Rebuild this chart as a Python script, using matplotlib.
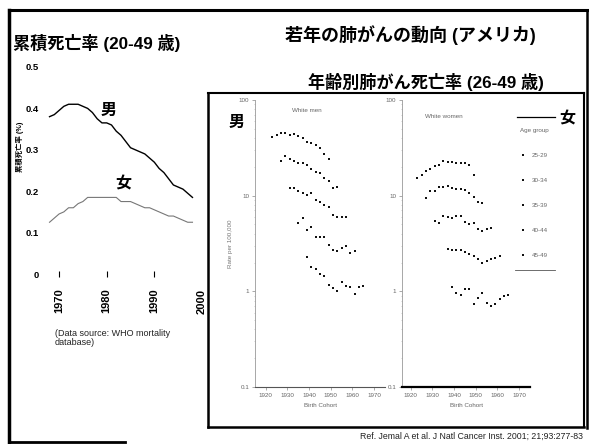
import matplotlib
matplotlib.use('Agg')
import matplotlib.pyplot as plt
from matplotlib.lines import Line2D

plt.rcParams['font.family'] = ['Liberation Sans', 'Noto Sans CJK JP', 'DejaVu Sans']

# ---------------- data: left chart (cumulative death rate, %) ----------------
years = [1968, 1969, 1970, 1971, 1972, 1973, 1974, 1975, 1976, 1977, 1978, 1979, 1980,
         1981, 1982, 1983, 1984, 1985, 1986, 1987, 1988, 1989, 1990, 1991, 1992, 1993,
         1994, 1995, 1996, 1997, 1998]
male = [0.38, 0.385, 0.395, 0.405, 0.41, 0.41, 0.41, 0.405, 0.40, 0.39, 0.375, 0.365, 0.365,
        0.36, 0.345, 0.335, 0.32, 0.305, 0.30, 0.295, 0.29, 0.28, 0.27, 0.255, 0.245, 0.23,
        0.215, 0.21, 0.205, 0.195, 0.185]
female = [0.125, 0.135, 0.145, 0.15, 0.16, 0.16, 0.17, 0.175, 0.185, 0.185, 0.185, 0.185, 0.185,
          0.185, 0.185, 0.175, 0.175, 0.175, 0.17, 0.165, 0.16, 0.16, 0.155, 0.15, 0.145, 0.14,
          0.14, 0.135, 0.13, 0.125, 0.125]
left_yticks = [0, 0.1, 0.2, 0.3, 0.4, 0.5]
left_xticks = [1970, 1980, 1990, 2000]

# ---------------- data: right panels (rate per 100,000 by birth cohort) ----------------
age_groups = ['45-49', '40-44', '35-39', '30-34', '25-29']

m45_x = [1923, 1925, 1927, 1929, 1931, 1933, 1935, 1937, 1939, 1941, 1943, 1945, 1947, 1949]
m45_y = [40.9, 43.0, 45.1, 45.1, 43.0, 44.0, 42.0, 40.0, 36.3, 35.5, 33.8, 31.4, 27.2, 24.1]
m40_x = [1927, 1929, 1931, 1933, 1935, 1937, 1939, 1941, 1943, 1945, 1947, 1949, 1951, 1953]
m40_y = [23.0, 25.9, 24.1, 23.0, 21.9, 21.9, 20.9, 19.0, 17.7, 17.2, 15.3, 14.2, 12.0, 12.3]
m35_x = [1931, 1933, 1935, 1937, 1939, 1941, 1943, 1945, 1947, 1949, 1951, 1953, 1955, 1957]
m35_y = [12.0, 12.0, 11.2, 10.6, 10.1, 10.6, 9.0, 8.6, 8.0, 7.6, 6.3, 6.0, 6.0, 6.0]
m30_x = [1935, 1937, 1939, 1941, 1943, 1945, 1947, 1949, 1951, 1953, 1955, 1957, 1959, 1961]
m30_y = [5.2, 5.8, 4.4, 4.7, 3.7, 3.7, 3.7, 3.05, 2.70, 2.64, 2.83, 2.97, 2.51, 2.64]
m25_x = [1939, 1941, 1943, 1945, 1947, 1949, 1951, 1953, 1955, 1957, 1959, 1961, 1963, 1965]
m25_y = [2.28, 1.80, 1.71, 1.52, 1.45, 1.16, 1.08, 1.01, 1.25, 1.14, 1.11, 0.94, 1.11, 1.14]

w45_x = [1923, 1925, 1927, 1929, 1931, 1933, 1935, 1937, 1939, 1941, 1943, 1945, 1947, 1949]
w45_y = [15.3, 16.4, 18.1, 19.0, 20.4, 20.9, 23.0, 22.4, 22.4, 21.9, 21.9, 21.9, 20.9, 16.4]
w40_x = [1927, 1929, 1931, 1933, 1935, 1937, 1939, 1941, 1943, 1945, 1947, 1949, 1951, 1953]
w40_y = [9.4, 11.2, 11.2, 12.3, 12.3, 12.6, 12.0, 11.7, 11.7, 11.4, 10.6, 9.7, 8.6, 8.4]
w35_x = [1931, 1933, 1935, 1937, 1939, 1941, 1943, 1945, 1947, 1949, 1951, 1953, 1955, 1957]
w35_y = [5.4, 5.2, 6.1, 6.0, 5.8, 6.1, 6.1, 5.3, 5.0, 5.2, 4.5, 4.3, 4.5, 4.6]
w30_x = [1937, 1939, 1941, 1943, 1945, 1947, 1949, 1951, 1953, 1955, 1957, 1959, 1961]
w30_y = [2.77, 2.70, 2.70, 2.70, 2.57, 2.45, 2.34, 2.18, 1.98, 2.07, 2.18, 2.23, 2.34]
w25_x = [1939, 1941, 1943, 1945, 1947, 1949, 1951, 1953, 1955, 1957, 1959, 1961, 1963, 1965]
w25_y = [1.11, 0.96, 0.91, 1.06, 1.06, 0.74, 0.85, 0.96, 0.75, 0.70, 0.74, 0.83, 0.89, 0.91]

cohort_ticks = [1920, 1930, 1940, 1950, 1960, 1970]
rate_ticks = [0.1, 1, 10, 100]
rate_ticklabels = ['0.1', '1', '10', '100']

# ---------------- figure ----------------
W, H = 589, 444
fig = plt.figure(figsize=(W / 100, H / 100), dpi=100)


def fx(px):
    return px / W


def fy(py):
    return 1 - py / H


def hline(x0, x1, y, lw=1.5, color='black'):
    fig.add_artist(Line2D([fx(x0), fx(x1)], [fy(y), fy(y)], transform=fig.transFigure,
                          color=color, lw=lw))


def vline(x, y0, y1, lw=1.5, color='black'):
    fig.add_artist(Line2D([fx(x), fx(x)], [fy(y0), fy(y1)], transform=fig.transFigure,
                          color=color, lw=lw))


# slide frame
hline(9, 588, 10, lw=2.2)
vline(9, 10, 443, lw=2.5)
hline(9, 125, 442, lw=2.0)
vline(587, 10, 428, lw=1.8)
# right panel frame
hline(208, 584, 93, lw=1.5)
hline(208, 584, 427, lw=1.8)
vline(208, 93, 427, lw=1.8)
vline(584, 93, 427, lw=1.5)

# titles
fig.text(fx(13), fy(43), '累積死亡率 (20-49 歳)', fontsize=12.3, fontweight='bold',
         ha='left', va='center')
fig.text(fx(410), fy(35), '若年の肺がんの動向 (アメリカ)', fontsize=13, fontweight='bold',
         ha='center', va='center')
fig.text(fx(426), fy(82), '年齢別肺がん死亡率 (26-49 歳)', fontsize=12.3, fontweight='bold',
         ha='center', va='center')

# ---------------- left chart ----------------
axL = fig.add_axes([fx(40), fy(274), fx(202) - fx(40), fy(67) - fy(274)])
axL.plot(years, male, color='black', lw=1.0)
axL.plot(years, female, color='#777777', lw=0.8)
axL.set_xlim(1966.0, 2000.0)
axL.set_ylim(0, 0.5)
for s in axL.spines.values():
    s.set_visible(False)
axL.set_yticks(left_yticks)
axL.set_yticklabels(['0', '0.1', '0.2', '0.3', '0.4', '0.5'], fontsize=6.8, fontweight='bold')
axL.tick_params(axis='y', length=0, pad=1)
axL.set_xticks(left_xticks)
axL.set_xticklabels([str(v) for v in left_xticks], rotation=90, fontsize=8, fontweight='bold')
axL.tick_params(axis='x', direction='inout', length=5, width=0.8, pad=8)
axL.xaxis.get_major_ticks()[-1].tick1line.set_visible(False)
axL.patch.set_alpha(0)
fig.text(fx(20), fy(147), '累積死亡率 (%)', rotation=90, fontsize=5.3, fontweight='bold',
         ha='center', va='center')
fig.text(fx(109), fy(110), '男', fontsize=11.5, fontweight='bold', ha='center', va='center')
fig.text(fx(123), fy(184), '女', fontsize=11.5, fontweight='bold', ha='center', va='center')
fig.text(fx(55), fy(338), '(Data source: WHO mortality\ndatabase)', fontsize=6.5,
         ha='left', va='center', color='#222222', linespacing=1.1)

# ---------------- right panels ----------------
men_series = [(m45_x, m45_y), (m40_x, m40_y), (m35_x, m35_y), (m30_x, m30_y), (m25_x, m25_y)]
women_series = [(w45_x, w45_y), (w40_x, w40_y), (w35_x, w35_y), (w30_x, w30_y), (w25_x, w25_y)]


def style_panel(ax, xlim, bottom_lw, bottom_color, title, title_px):
    ax.set_yscale('log')
    ax.set_ylim(0.1, 100)
    ax.set_xlim(*xlim)
    ax.spines['top'].set_visible(False)
    ax.spines['right'].set_visible(False)
    ax.spines['left'].set_color('#999999')
    ax.spines['left'].set_linewidth(0.6)
    ax.spines['bottom'].set_color(bottom_color)
    ax.spines['bottom'].set_linewidth(bottom_lw)
    ax.set_xticks(cohort_ticks)
    ax.set_xticklabels([str(v) for v in cohort_ticks], fontsize=4.5, color='#666666')
    ax.set_yticks(rate_ticks)
    ax.set_yticklabels(rate_ticklabels, fontsize=4.5, color='#666666')
    ax.tick_params(axis='both', which='major', length=2, width=0.5, color='#888888', pad=2)
    ax.tick_params(axis='y', which='minor', length=1, width=0.4, color='#aaaaaa')
    ax.set_xlabel('Birth Cohort', fontsize=4.5, color='#666666', labelpad=4)
    ax.patch.set_alpha(0)
    fig.text(fx(title_px[0]), fy(title_px[1]), title, fontsize=4.5, color='#666666',
             ha='left', va='center')


axM = fig.add_axes([fx(255), fy(387), fx(385) - fx(255), fy(100) - fy(387)])
for (xs, ys) in men_series:
    axM.plot(xs, ys, ls='none', marker='s', ms=1.6, color='#111111', mew=0)
style_panel(axM, (1915, 1975), 0.8, '#555555', 'White men', (292, 111))
axM.set_ylabel('Rate per 100,000', fontsize=4.5, color='#777777', labelpad=4)

axW = fig.add_axes([fx(402), fy(387), fx(530) - fx(402), fy(100) - fy(387)])
handles = []
for (xs, ys), lab in zip(women_series, age_groups):
    h, = axW.plot(xs, ys, ls='none', marker='s', ms=1.6, color='#111111', mew=0, label=lab)
    handles.append(h)
style_panel(axW, (1916, 1975), 1.6, 'black', 'White women', (425, 116))

# legend
hline(517, 555, 117, lw=0.9)
hline(515, 555, 270, lw=0.6, color='#555555')
leg = fig.legend(handles[::-1], age_groups[::-1], loc='upper left',
                 bbox_to_anchor=(fx(514), fy(122)), frameon=False, fontsize=4.5,
                 title='Age group', title_fontsize=4.5, labelspacing=3.15,
                 handlelength=1.0, handletextpad=0.8, labelcolor='#666666')
leg.get_title().set_color('#666666')

fig.text(fx(237), fy(122), '男', fontsize=11.5, fontweight='bold', ha='center', va='center')
fig.text(fx(567), fy(119), '女', fontsize=11.5, fontweight='bold', ha='center', va='center')

fig.text(fx(583), fy(436), 'Ref. Jemal A et al. J Natl Cancer Inst. 2001; 21;93:277-83',
         fontsize=6.3, ha='right', va='center', color='#222222')

fig.savefig('out.png', dpi=100)
